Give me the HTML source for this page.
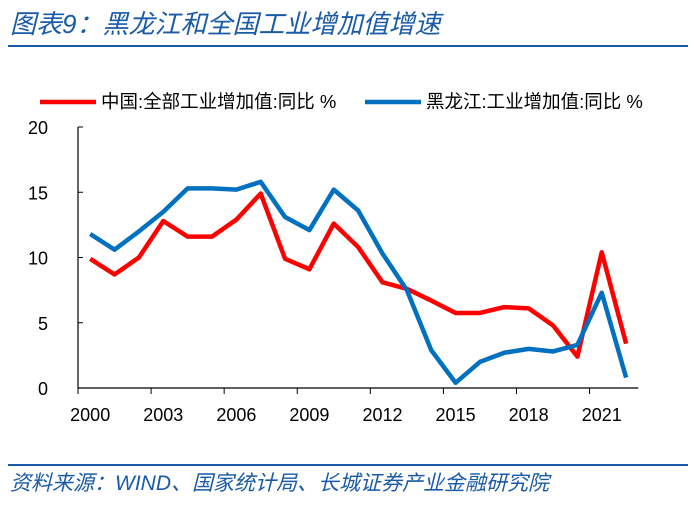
<!DOCTYPE html>
<html><head><meta charset="utf-8"><style>
body{margin:0;background:#fff;width:694px;height:509px;overflow:hidden;font-family:"Liberation Sans","Noto Sans CJK SC",sans-serif}
.t{position:absolute;left:10px;top:4px;font-size:26px;font-style:italic;color:#1a5aa6;white-space:nowrap}
.s{position:absolute;left:10px;top:467px;font-size:21px;font-style:italic;color:#1a5aa6;white-space:nowrap}
</style></head><body>
<div class="t">图表9：黑龙江和全国工业增加值增速</div>
<div style="position:absolute;left:8px;top:45px;width:680px;height:2px;background:#1a5aa6"></div>
<svg id="c" width="694" height="509" style="position:absolute;left:0;top:0"></svg>
<div style="position:absolute;left:8px;top:464px;width:680px;height:2px;background:#1a5aa6"></div>
<div class="s">资料来源：WIND、国家统计局、长城证券产业金融研究院</div>
<script>
const years=[2000,2001,2002,2003,2004,2005,2006,2007,2008,2009,2010,2011,2012,2013,2014,2015,2016,2017,2018,2019,2020,2021,2022];
const china=[9.9,8.7,10.0,12.8,11.6,11.6,12.9,14.9,9.9,9.1,12.6,10.8,8.1,7.6,6.7,5.75,5.75,6.2,6.1,4.8,2.4,10.4,3.4];
const hlj=[11.8,10.6,12.0,13.5,15.3,15.3,15.2,15.8,13.1,12.1,15.2,13.6,10.3,7.5,2.9,0.4,2.0,2.7,3.0,2.8,3.3,7.3,0.8];
const yTicks=[0,5,10,15,20];
const xTickLabels=[2000,2003,2006,2009,2012,2015,2018,2021];
const svg=document.getElementById('c');const NS='http://www.w3.org/2000/svg';
const x0=78,slot=24.36,y0=388,yk=13.05;
const X=i=>x0+slot*(i+0.5);const Y=v=>y0-v*yk;
function mk(t,a,p){const e=document.createElementNS(NS,t);for(const k in a)e.setAttribute(k,a[k]);(p||svg).appendChild(e);return e;}
const ax=mk('path',{d:`M${x0} ${Y(20)}V${y0}H${x0+slot*23}`,stroke:'#000','stroke-width':1.2,fill:'none'});


yTicks.forEach(v=>{
 mk('line',{x1:x0,x2:x0+5,y1:Y(v),y2:Y(v),stroke:'#000'});
 const t=mk('text',{x:48,y:Y(v)+7,'text-anchor':'end','font-size':18});t.textContent=v;
 
 
});
years.forEach((yr,i)=>{if(i%3===0){const xx=x0+slot*i;mk('line',{x1:xx,x2:xx,y1:y0,y2:y0+6,stroke:'#000'});}});
xTickLabels.forEach(yr=>{
 const i=years.indexOf(yr);
 const t=mk('text',{x:X(i),y:421,'text-anchor':'middle','font-size':18});t.textContent=yr;
 
 
});
function line(d,c,n){const p=mk('polyline',{points:d.map((v,i)=>X(i)+','+Y(v)).join(' '),stroke:c,'stroke-width':4.5,fill:'none','stroke-linejoin':'round'});
 
 }
line(china,'#ff0000','china-series');
line(hlj,'#0070c0','heilongjiang-series');
[[40,'#ff0000','中国:全部工业增加值:同比 %','legend-china'],[365,'#0070c0','黑龙江:工业增加值:同比 %','legend-heilongjiang']].forEach(([lx,c,s,n])=>{
 const g=mk('g',{});
 
 
 mk('line',{x1:lx,x2:lx+56,y1:102,y2:102,stroke:c,'stroke-width':4.5},g);
 const t=mk('text',{x:lx+61,y:108,'font-size':18.5},g);t.textContent=s;
});
</script>
</body></html>
